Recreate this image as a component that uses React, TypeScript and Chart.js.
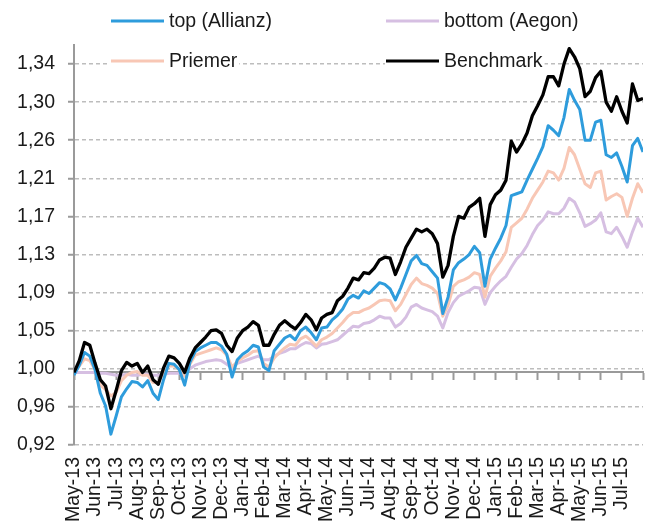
import React, { useEffect, useRef } from 'react';
import { Chart, registerables } from 'chart.js';

Chart.register(...registerables);

const monthLabels = [
  'May-13', 'Jun-13', 'Jul-13', 'Aug-13', 'Sep-13', 'Oct-13', 'Nov-13', 'Dec-13',
  'Jan-14', 'Feb-14', 'Mar-14', 'Apr-14', 'May-14', 'Jun-14', 'Jul-14', 'Aug-14',
  'Sep-14', 'Oct-14', 'Nov-14', 'Dec-14', 'Jan-15', 'Feb-15', 'Mar-15', 'Apr-15',
  'May-15', 'Jun-15', 'Jul-15',
];

// samples per month along the x axis (roughly weekly)
const pointsPerMonth = 4;

const yTickValues = [0.92, 0.962, 1.004, 1.046, 1.088, 1.13, 1.172, 1.214, 1.256, 1.298, 1.34];
const yTickLabels = ['0,92', '0,96', '1,00', '1,05', '1,09', '1,13', '1,17', '1,21', '1,26', '1,30', '1,34'];

const allianz = [
  0.997, 1.008, 1.022, 1.018, 1.003, 0.977, 0.963, 0.932, 0.952, 0.973,
  0.982, 0.990, 0.989, 0.984, 0.991, 0.977, 0.970, 0.992, 1.010, 1.009,
  1.003, 0.986, 1.011, 1.023, 1.027, 1.030, 1.033, 1.033, 1.029, 1.020,
  0.995, 1.014, 1.020, 1.024, 1.030, 1.028, 1.006, 1.002, 1.024, 1.031,
  1.038, 1.041, 1.036, 1.046, 1.050, 1.044, 1.036, 1.049, 1.050, 1.058,
  1.063, 1.070, 1.081, 1.085, 1.082, 1.090, 1.087, 1.093, 1.099, 1.097,
  1.092, 1.080, 1.093, 1.108, 1.123, 1.129, 1.120, 1.118, 1.111, 1.104,
  1.065, 1.083, 1.113, 1.121, 1.125, 1.130, 1.139, 1.132, 1.095, 1.125,
  1.137, 1.148, 1.162, 1.195, 1.197, 1.199, 1.212, 1.224, 1.236, 1.249,
  1.272, 1.267, 1.261, 1.281, 1.312, 1.300, 1.290, 1.256, 1.256, 1.276,
  1.278, 1.240, 1.237, 1.242, 1.227, 1.210, 1.250, 1.258, 1.243,
];

const aegon = [
  1.000, 1.000, 1.000, 1.000, 1.000, 0.999, 0.999, 0.998, 0.997, 0.997,
  0.998, 0.997, 0.997, 0.998, 0.998, 0.997, 0.997, 0.998, 0.999, 0.999,
  0.999, 0.998, 1.004, 1.008, 1.010, 1.012, 1.013, 1.014, 1.013, 1.009,
  1.005, 1.010, 1.012, 1.014, 1.016, 1.018, 1.014, 1.014, 1.018, 1.021,
  1.023, 1.026, 1.026, 1.030, 1.033, 1.032, 1.027, 1.031, 1.032, 1.034,
  1.036, 1.041, 1.046, 1.051, 1.050, 1.054, 1.055, 1.058, 1.062, 1.060,
  1.060, 1.050, 1.054, 1.061, 1.072, 1.075, 1.071, 1.069, 1.067, 1.062,
  1.049, 1.066, 1.077, 1.084, 1.087, 1.090, 1.094, 1.093, 1.075, 1.088,
  1.095, 1.101, 1.106, 1.116, 1.125, 1.131, 1.140, 1.152, 1.162, 1.168,
  1.177, 1.175, 1.175, 1.181, 1.192, 1.188, 1.176, 1.161, 1.164, 1.168,
  1.176, 1.155, 1.153, 1.160, 1.150, 1.138, 1.155, 1.170, 1.160,
];

const priemer = [
  1.000, 1.007, 1.015, 1.013, 1.003, 0.986, 0.981, 0.974, 0.978, 0.991,
  0.997, 1.000, 1.001, 0.997, 0.997, 0.989, 0.989, 1.000, 1.007, 1.007,
  1.003, 0.996, 1.009, 1.019, 1.021, 1.023, 1.025, 1.027, 1.025, 1.019,
  1.006, 1.012, 1.016, 1.019, 1.023, 1.024, 1.010, 1.006, 1.016, 1.022,
  1.027, 1.031, 1.030, 1.037, 1.040, 1.035, 1.029, 1.036, 1.039, 1.043,
  1.049, 1.055, 1.062, 1.066, 1.066, 1.069, 1.071, 1.075, 1.079, 1.080,
  1.079, 1.068, 1.075, 1.086, 1.097, 1.104, 1.098, 1.096, 1.093, 1.087,
  1.062, 1.074, 1.095, 1.100, 1.102, 1.105, 1.110, 1.108, 1.083, 1.106,
  1.115, 1.123, 1.133, 1.160, 1.165, 1.170, 1.180, 1.192, 1.201, 1.210,
  1.222, 1.220, 1.212, 1.225, 1.248, 1.240, 1.224, 1.208, 1.204, 1.220,
  1.222, 1.190, 1.194, 1.197, 1.193, 1.172, 1.192, 1.208, 1.198,
];

const benchmark = [
  1.000, 1.013, 1.033, 1.030, 1.010, 0.992, 0.985, 0.960, 0.980, 1.002,
  1.011, 1.007, 1.010, 1.000, 1.007, 0.992, 0.987, 1.005, 1.018, 1.016,
  1.010, 1.000, 1.016, 1.027, 1.033, 1.039, 1.046, 1.047, 1.043, 1.030,
  1.023, 1.038, 1.046, 1.050, 1.056, 1.052, 1.030, 1.030, 1.042, 1.052,
  1.057, 1.052, 1.048, 1.055, 1.064, 1.058, 1.047, 1.060, 1.064, 1.066,
  1.079, 1.084, 1.093, 1.104, 1.102, 1.110, 1.109, 1.115, 1.124, 1.127,
  1.126, 1.108, 1.122, 1.138, 1.148, 1.158, 1.155, 1.158, 1.153, 1.142,
  1.105, 1.118, 1.150, 1.172, 1.170, 1.182, 1.186, 1.192, 1.150, 1.185,
  1.196, 1.201, 1.212, 1.255, 1.243, 1.252, 1.264, 1.283, 1.294, 1.306,
  1.326, 1.326, 1.316, 1.340, 1.357, 1.348, 1.335, 1.304, 1.310, 1.325,
  1.332, 1.298, 1.288, 1.304, 1.288, 1.275, 1.318, 1.300, 1.302,
];

const seriesLabels = ['top (Allianz)', 'bottom (Aegon)', 'Priemer', 'Benchmark'];
const seriesColors = ['#2e9cdc', '#d6bfe2', '#f8c7b5', '#000000'];
const seriesWidths = [3, 3, 3, 3.3];
const seriesValues = [allianz, aegon, priemer, benchmark];
const seriesOrder = [1, 3, 2, 0];

const FONT = '"Liberation Sans", Arial, Helvetica, sans-serif';
const FONT_SIZE = 19.5;
const TEXT = '#1a1a1a';
const AXIS = '#9a9a9a';

const overlayLegend = {
  id: 'overlayLegend',
  beforeDatasetsDraw(chart: any) {
    const ctx = chart.ctx as CanvasRenderingContext2D;
    const slots = [
      { x: 111, y: 21 },
      { x: 386, y: 21 },
      { x: 111, y: 61 },
      { x: 386, y: 61 },
    ];
    ctx.save();
    ctx.font = `${FONT_SIZE}px ${FONT}`;
    ctx.textBaseline = 'middle';
    ctx.textAlign = 'left';
    chart.data.datasets.forEach((ds: any, i: number) => {
      const s = slots[i];
      const lineLen = 53;
      const textX = s.x + lineLen + 5;
      const w = ctx.measureText(ds.label).width;
      ctx.fillStyle = '#ffffff';
      ctx.fillRect(s.x - 1, s.y - 12, textX + w - s.x + 3, 24);
      ctx.strokeStyle = ds.borderColor;
      ctx.lineWidth = 3.2;
      ctx.beginPath();
      ctx.moveTo(s.x, s.y);
      ctx.lineTo(s.x + lineLen, s.y);
      ctx.stroke();
      ctx.fillStyle = TEXT;
      ctx.fillText(ds.label, textX, s.y + 1);
    });
    ctx.restore();
  },
};

export default function App() {
  const ref = useRef<HTMLCanvasElement | null>(null);

  useEffect(() => {
    document.body.style.margin = '0';
    const canvas = ref.current;
    if (!canvas) return;

    const datasets = seriesValues.map((vals, k) => ({
      label: seriesLabels[k],
      data: vals.map((y, i) => ({ x: i / pointsPerMonth, y })),
      borderColor: seriesColors[k],
      backgroundColor: seriesColors[k],
      borderWidth: seriesWidths[k],
      pointRadius: 0,
      tension: 0,
      borderJoinStyle: 'round' as const,
      order: seriesOrder[k],
      xAxisID: 'x',
      yAxisID: 'y',
    }));

    const chart = new Chart(canvas, {
      type: 'line',
      data: { datasets },
      plugins: [overlayLegend],
      options: {
        responsive: false,
        animation: false,
        layout: { padding: { top: 45, left: 0, right: 3, bottom: 0 } },
        font: { family: FONT, size: FONT_SIZE },
        plugins: {
          legend: { display: false },
          tooltip: { enabled: false },
        },
        scales: {
          x: {
            type: 'linear',
            axis: 'x',
            position: 'bottom',
            min: 0,
            max: monthLabels.length,
            afterBuildTicks: (s: any) => {
              s.ticks = monthLabels.map((_, i) => ({ value: i }));
            },
            afterFit: (s: any) => {
              s.height = 80;
              s.paddingLeft = 0;
              s.paddingRight = 0;
            },
            ticks: {
              autoSkip: false,
              maxRotation: 90,
              minRotation: 90,
              padding: 12,
              color: TEXT,
              font: { family: FONT, size: FONT_SIZE },
              callback: (v: any) => monthLabels[Math.round(Number(v))] ?? '',
            },
            grid: { display: false, drawTicks: false },
            border: { display: false },
          },
          x0: {
            type: 'linear',
            axis: 'x',
            position: { y: 1.0 },
            min: 0,
            max: monthLabels.length,
            afterBuildTicks: (s: any) => {
              s.ticks = Array.from({ length: monthLabels.length + 1 }, (_, i) => ({ value: i }));
            },
            afterFit: (s: any) => {
              s.paddingLeft = 0;
              s.paddingRight = 0;
            },
            ticks: { display: false },
            grid: {
              display: true,
              drawOnChartArea: false,
              drawTicks: true,
              tickLength: 7,
              tickColor: AXIS,
              tickWidth: 2,
            },
            border: { display: true, color: AXIS, width: 2 },
          },
          y: {
            type: 'linear',
            position: 'left',
            min: 0.92,
            max: 1.361,
            afterBuildTicks: (s: any) => {
              s.ticks = yTickValues.map((v) => ({ value: v }));
            },
            afterFit: (s: any) => {
              s.width = 74;
              s.paddingTop = 0;
              s.paddingBottom = 0;
            },
            ticks: {
              padding: 13,
              color: TEXT,
              font: { family: FONT, size: FONT_SIZE },
              callback: (_v: any, i: number) => yTickLabels[i] ?? '',
            },
            grid: {
              color: '#bdbdbd',
              lineWidth: 1.5,
              tickLength: 6,
              tickColor: AXIS,
              tickWidth: 2,
            },
            border: { display: true, color: AXIS, width: 2, dash: [4, 3] },
          },
        },
      } as any,
    });

    return () => chart.destroy();
  }, []);

  return (
    <div style={{ width: 646, height: 525 }}>
      <canvas ref={ref} width={646} height={525} style={{ display: 'block' }} />
    </div>
  );
}
